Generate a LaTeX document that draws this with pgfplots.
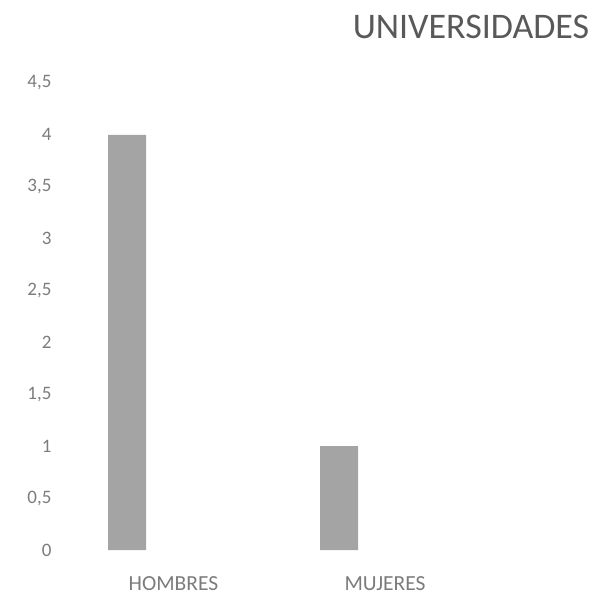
\documentclass[border=0pt]{standalone}
\usepackage{pgfplots}
\pgfplotsset{compat=1.18}
\usepackage{fontspec}
\setmainfont{Carlito}
\definecolor{barg}{HTML}{A4A4A4}
\definecolor{txtg}{HTML}{7C7C7C}
\definecolor{titg}{HTML}{595959}
\begin{document}
\begin{tikzpicture}[x=1pt,y=1pt]
\useasboundingbox (0,0) rectangle (598,598);
\begin{axis}[
  at={(60pt,48pt)}, anchor=south west,
  scale only axis, width=530pt, height=467pt,
  xmin=60, xmax=590, ymin=0, ymax=4.5,
  axis line style={draw=none},
  major tick length=0pt,
  ytick={0,0.5,1,1.5,2,2.5,3,3.5,4,4.5},
  /pgf/number format/use comma,
  /pgf/number format/fixed,
  /pgf/number format/assume math mode=true,
  xtick={173.5,385}, xticklabels={HOMBRES,MUJERES},
  tick label style={text=txtg},
  yticklabel style={font=\fontsize{19}{22}\selectfont, xshift=-5pt},
  xticklabel style={font=\fontsize{21.5}{24}\selectfont, anchor=base, yshift=-40pt},
  clip=false,
]
\addplot[ybar, bar width=38pt, bar shift=0pt, fill=barg, draw=none]
  coordinates {(127,4) (339,1)};
\end{axis}
\node[text=titg, font=\fontsize{36}{42}\selectfont] at (471,571) {UNIVERSIDADES};
\end{tikzpicture}
\end{document}
